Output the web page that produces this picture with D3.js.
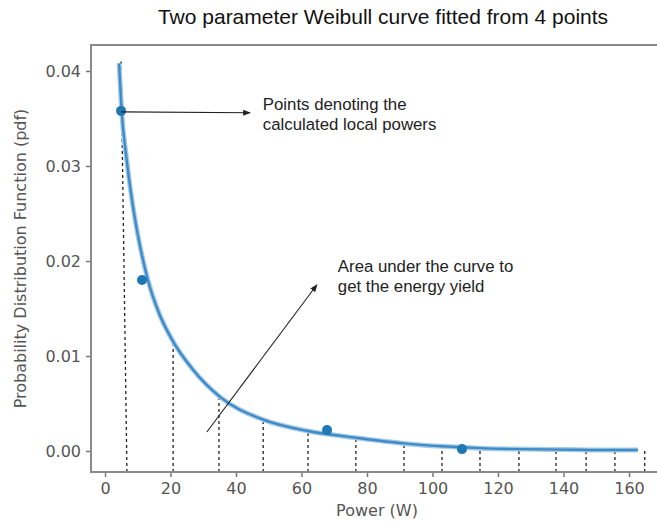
<!DOCTYPE html>
<html>
<head>
<meta charset="utf-8">
<script src="https://cdn.jsdelivr.net/npm/d3@7"></script>
<style>
  body { margin: 0; background: #fff; }
  svg { display: block; }
</style>
</head>
<body>
<script>
// values
var curveX = [4.3, 5.1, 6.5, 8.2, 10, 13.1, 16.5, 20.5, 27, 35.1, 48.3, 62, 76.6, 91.3, 102.9, 114.5, 126.4, 140, 155, 162.7];
var curveY = [0.0408, 0.0357, 0.0310, 0.0265, 0.0228, 0.0180, 0.0145, 0.0117, 0.0085, 0.0057, 0.0033, 0.0021, 0.0014, 0.0008, 0.0005, 0.0003, 0.0002, 0.00015, 0.0001, 0.0001];

var pointX = [4.9, 11.3, 67.8, 109];
var pointY = [0.0358, 0.0180, 0.0022, 0.0002];

// dashed strips under the curve (bottom x, top x, top y)
var dashBottomX = [6.7, 20.8, 34.8, 48.3, 62, 76.6, 91.3, 102.9, 114.5, 126.4, 137.7, 146.9, 155.7, 164.8];
var dashTopX = [4.9, 20.8, 34.8, 48.3, 62, 76.6, 91.3, 102.9, 114.5, 126.4, 137.7, 146.9, 155.7, 164.8];
var dashTopY = [0.041, 0.0117, 0.0059, 0.0033, 0.0021, 0.0014, 0.0007, 0.0005, 0.0003, 0.0003, 0.0002, 0.0002, 0.0002, 0.0003];

var xTicks = [0, 20, 40, 60, 80, 100, 120, 140, 160];
var yTicks = [0, 0.01, 0.02, 0.03, 0.04];

var width = 657,
    height = 525;

var svg = d3.select("body")
    .append("svg")
    .attr("width", width)
    .attr("height", height);

var x = d3.scaleLinear().domain([0, 160]).range([105, 629]);
var y = d3.scaleLinear().domain([0, 0.04]).range([451, 71]);

var frameLeft = 91, frameTop = 45, frameBottom = 472, frameRight = 662;

var defs = svg.append("defs");
defs.append("marker")
    .attr("id", "arrow")
    .attr("viewBox", "0 0 10 10")
    .attr("refX", 9)
    .attr("refY", 5)
    .attr("markerWidth", 7)
    .attr("markerHeight", 7)
    .attr("orient", "auto")
    .append("path")
    .attr("d", "M0,1 L10,5 L0,9 z")
    .attr("fill", "#222");

//dashed lines
svg.selectAll(".dash")
    .data(dashBottomX)
    .enter()
    .append("line")
    .attr("class", "dash")
    .attr("x1", function(d){ return x(d); })
    .attr("y1", frameBottom)
    .attr("x2", function(d, i){ return x(dashTopX[i]); })
    .attr("y2", function(d, i){ return y(dashTopY[i]); })
    .attr("stroke", "#222")
    .attr("stroke-width", 1.3)
    .attr("stroke-dasharray", "3,3");

//fitted curve
var line = d3.line()
    .x(function(d){ return x(d[0]); })
    .y(function(d){ return y(d[1]); })
    .curve(d3.curveMonotoneX);

svg.append("path")
    .datum(d3.zip(curveX, curveY))
    .attr("d", line)
    .attr("fill", "none")
    .attr("stroke", "#a9cbe6")
    .attr("stroke-width", 5);

svg.append("path")
    .datum(d3.zip(curveX, curveY))
    .attr("d", line)
    .attr("fill", "none")
    .attr("stroke", "#3d8cc8")
    .attr("stroke-width", 2.4);

//points
svg.selectAll(".pt")
    .data(d3.zip(pointX, pointY))
    .enter()
    .append("circle")
    .attr("class", "pt")
    .attr("cx", function(d){ return x(d[0]); })
    .attr("cy", function(d){ return y(d[1]); })
    .attr("r", 5)
    .attr("fill", "#1f77b4");

//axes
var xAxis = svg.append("g")
    .attr("transform", "translate(0," + frameBottom + ")")
    .call(d3.axisBottom(x).tickValues(xTicks).tickSize(5).tickPadding(6).tickFormat(d3.format("d")));

var yAxis = svg.append("g")
    .attr("transform", "translate(" + frameLeft + ",0)")
    .call(d3.axisLeft(y).tickValues(yTicks).tickSize(5).tickPadding(5).tickFormat(d3.format(".2f")));

[xAxis, yAxis].forEach(function(g){
    g.select(".domain").remove();
    g.selectAll(".tick line").attr("stroke", "#777").attr("stroke-width", 1.5);
    g.selectAll(".tick text")
        .attr("fill", "#555")
        .style("font-family", "DejaVu Sans, sans-serif")
        .style("font-size", "16px");
});

//frame
svg.append("path")
    .attr("d", "M" + frameRight + "," + frameTop + " H" + frameLeft + " V" + frameBottom + " H" + frameRight)
    .attr("fill", "none")
    .attr("stroke", "#8a8a8a")
    .attr("stroke-width", 2);

//axis labels
svg.append("text")
    .attr("x", 377)
    .attr("y", 516)
    .attr("text-anchor", "middle")
    .attr("fill", "#555")
    .style("font-family", "DejaVu Sans, sans-serif")
    .style("font-size", "16px")
    .text("Power (W)");

svg.append("text")
    .attr("transform", "translate(26," + ((frameTop + frameBottom) / 2) + ") rotate(-90)")
    .attr("text-anchor", "middle")
    .attr("fill", "#555")
    .style("font-family", "DejaVu Sans, sans-serif")
    .style("font-size", "16px")
    .text("Probability Distribution Function (pdf)");

//title
svg.append("text")
    .attr("x", 383)
    .attr("y", 24)
    .attr("text-anchor", "middle")
    .attr("fill", "#111")
    .style("font-family", "Liberation Sans, Arial, sans-serif")
    .style("font-size", "21px")
    .text("Two parameter Weibull curve fitted from 4 points");

//annotations
svg.append("line")
    .attr("x1", x(4.9)).attr("y1", y(0.0357))
    .attr("x2", x(44.3)).attr("y2", y(0.0356))
    .attr("stroke", "#222").attr("stroke-width", 1.1)
    .attr("marker-end", "url(#arrow)");

svg.append("line")
    .attr("x1", x(31.1)).attr("y1", y(0.002))
    .attr("x2", x(64.7)).attr("y2", y(0.0175))
    .attr("stroke", "#222").attr("stroke-width", 1.1)
    .attr("marker-end", "url(#arrow)");

function note(lines, dx, dy){
    var t = svg.append("text")
        .attr("x", x(dx))
        .attr("y", y(dy))
        .attr("fill", "#222")
        .style("font-family", "Liberation Sans, Arial, sans-serif")
        .style("font-size", "16.8px");
    lines.forEach(function(s, i){
        t.append("tspan")
            .attr("x", x(dx))
            .attr("dy", i === 0 ? 0 : 20)
            .text(s);
    });
}

note(["Points denoting the", "calculated local powers"], 48.2, 0.0359);
note(["Area under the curve to", "get the energy yield"], 71.1, 0.01884);
</script>
</body>
</html>
